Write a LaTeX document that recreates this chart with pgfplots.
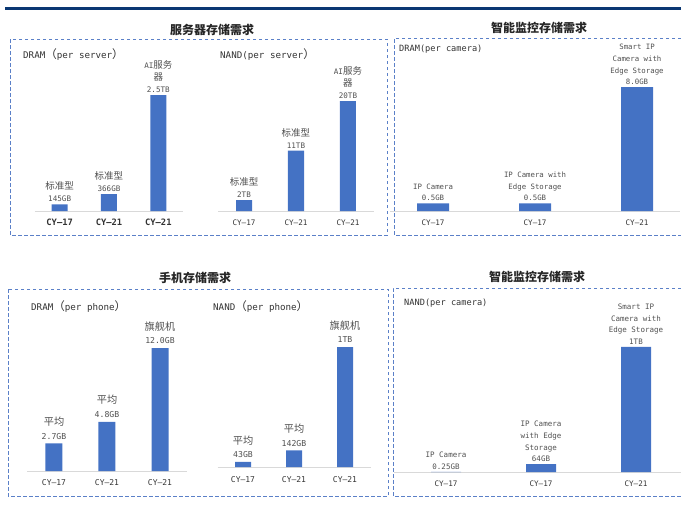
\documentclass[border=0pt]{standalone}
\usepackage{pgfplots}
\pgfplotsset{compat=1.18}
\usepackage{fontspec}
\setmainfont[Scale=0.8]{DejaVu Sans Mono}
\newfontfamily\cjk{Noto Sans CJK SC}
\newcommand{\C}[1]{{\cjk #1}}
\definecolor{barblue}{HTML}{4472C4}
\definecolor{boxblue}{RGB}{91,128,200}
\definecolor{navy}{RGB}{10,55,115}
\definecolor{axisgray}{HTML}{D9D9D9}
\definecolor{labgray}{HTML}{505050}
\definecolor{tickgray}{HTML}{333333}
\definecolor{titlegray}{HTML}{262626}

\def\Lsa{\C{标准型}\\145GB}
\def\Lsb{\C{标准型}\\366GB}
\def\Lsc{AI\C{服务}\\\C{器}\\2.5TB}
\def\Lna{\C{标准型}\\2TB}
\def\Lnb{\C{标准型}\\11TB}
\def\Lnc{AI\C{服务}\\\C{器}\\20TB}
\def\Lca{IP Camera\\0.5GB}
\def\Lcb{IP Camera with\\Edge Storage\\0.5GB}
\def\Lcc{Smart IP\\Camera with\\Edge Storage\\8.0GB}
\def\Lpa{\C{平均}\\2.7GB}
\def\Lpb{\C{平均}\\4.8GB}
\def\Lpc{\C{旗舰机}\\12.0GB}
\def\Lqa{\C{平均}\\43GB}
\def\Lqb{\C{平均}\\142GB}
\def\Lqc{\C{旗舰机}\\1TB}
\def\Lda{IP Camera\\0.25GB}
\def\Ldb{IP Camera\\with Edge\\Storage\\64GB}
\def\Ldc{Smart IP\\Camera with\\Edge Storage\\1TB}

\pgfplotsset{
  panel/.style={
    scale only axis, anchor=south west, clip=false,
    ymin=0, xmin=-0.5, xmax=2.5,
    axis x line=bottom, axis y line=none,
    x axis line style={draw=axisgray, line width=0.8pt, -},
    xtick={0,1,2}, xticklabels={CY–17,CY–21,CY–21},
    major tick length=0pt,
    ytick=\empty,
    xticklabel style={text=tickgray, font=\fontsize{9.5}{11}\selectfont, yshift=-5.5pt},
    ybar,
    point meta=explicit symbolic,
    nodes near coords={\csname L\pgfplotspointmeta\endcsname},
    every node near coord/.append style={align=center, text=labgray, font=\fontsize{9.5}{12}\selectfont, inner sep=2pt},
  },
}

\begin{document}
\begin{tikzpicture}
\path[use as bounding box] (0pt,0pt) rectangle (681pt,-507pt);
\fill[navy] (5pt,-7pt) rectangle (681pt,-10pt);

% dashed boxes
\tikzset{dbox/.style={draw=boxblue, line width=1pt, dash pattern=on 3.5pt off 2.5pt}}
\draw[dbox] (10pt,-39pt) rectangle (387pt,-235pt);
\draw[dbox] (681pt,-38pt) -- (394pt,-38pt) -- (394pt,-235pt) -- (681pt,-235pt);
\draw[dbox] (8pt,-289pt) rectangle (388pt,-496pt);
\draw[dbox] (681pt,-288pt) -- (393pt,-288pt) -- (393pt,-496pt) -- (681pt,-496pt);

% section titles
\tikzset{stitle/.style={font=\fontsize{12}{14}\selectfont\cjk\bfseries, text=titlegray}}
\node[stitle] at (212pt,-30pt) {服务器存储需求};
\node[stitle] at (539pt,-28pt) {智能监控存储需求};
\node[stitle] at (195pt,-278pt) {手机存储需求};
\node[stitle] at (537pt,-277pt) {智能监控存储需求};

% sub titles
\tikzset{sub/.style={anchor=west, inner sep=0pt, text=tickgray, font=\fontsize{11.5}{13}\selectfont}}
\node[sub] at (23pt,-55pt) {DRAM\C{（}per server\C{）}};
\node[sub] at (220pt,-55pt) {NAND(per server\C{）}};
\node[sub, font=\fontsize{10.8}{13}\selectfont] at (399pt,-49pt) {DRAM(per camera)};
\node[sub] at (31pt,-307pt) {DRAM\C{（}per phone\C{）}};
\node[sub] at (213pt,-307pt) {NAND\C{（}per phone\C{）}};
\node[sub, font=\fontsize{10.8}{13}\selectfont] at (404pt,-303pt) {NAND(per camera)};

% server DRAM
\begin{axis}[panel, at={(35pt,-211pt)}, width=148pt, height=139.2pt, ymax=3000,
  xticklabel style={font=\fontsize{11}{12}\selectfont\bfseries}]
\addplot[fill=barblue, draw=none, bar width=16pt] coordinates {(0,145) [sa] (1,366) [sb] (2,2500) [sc]};
\end{axis}

% server NAND
\begin{axis}[panel, at={(218pt,-211pt)}, width=156pt, height=137.5pt, ymax=25]
\addplot[fill=barblue, draw=none, bar width=16pt] coordinates {(0,2) [na] (1,11) [nb] (2,20) [nc]};
\end{axis}

% camera DRAM
\begin{axis}[panel, at={(390.2pt,-211pt)}, width=289.7pt, height=155pt, ymax=10,
  xmin=-0.42, xmax=2.42, xticklabels={CY–17,CY–17,CY–21},
  every node near coord/.append style={font=\fontsize{9.2}{11.7}\selectfont}]
\addplot[fill=barblue, draw=none, bar width=32pt] coordinates {(0,0.5) [ca] (1,0.5) [cb] (2,8.0) [cc]};
\end{axis}

% phone DRAM
\begin{axis}[panel, at={(27.5pt,-471pt)}, width=159pt, height=143.5pt, ymax=14,
  xticklabel style={font=\fontsize{10}{11}\selectfont},
  every node near coord/.append style={font=\fontsize{10.2}{13.5}\selectfont, yshift=2pt}]
\addplot[fill=barblue, draw=none, bar width=17pt] coordinates {(0,2.7) [pa] (1,4.8) [pb] (2,12.0) [pc]};
\end{axis}

% phone NAND
\begin{axis}[panel, at={(217.5pt,-467pt)}, width=153pt, height=140.6pt, ymax=1200,
  xticklabel style={font=\fontsize{10}{11}\selectfont, yshift=-1.5pt},
  every node near coord/.append style={font=\fontsize{10.2}{13.5}\selectfont, yshift=2pt}]
\addplot[fill=barblue, draw=none, bar width=16pt] coordinates {(0,43) [qa] (1,142) [qb] (2,1024) [qc]};
\end{axis}

% camera NAND
\begin{axis}[panel, at={(393.75pt,-472pt)}, width=289.75pt, height=146.5pt, ymax=1200,
  xmin=-0.55, xmax=2.5, xticklabels={CY–17,CY–17,CY–21},
  every node near coord/.append style={font=\fontsize{9.4}{11.8}\selectfont}]
\addplot[fill=barblue, draw=none, bar width=30pt] coordinates {(0,0.25) [da] (1,64) [db] (2,1024) [dc]};
\end{axis}
\end{tikzpicture}
\end{document}
